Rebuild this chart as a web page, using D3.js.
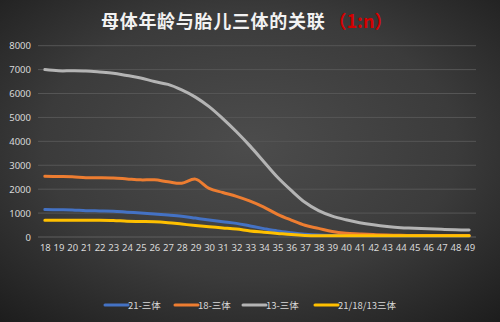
<!DOCTYPE html>
<html>
<head>
<meta charset="utf-8">
<script src="https://cdn.jsdelivr.net/npm/d3@7"></script>
<style>
html,body{margin:0;padding:0;background:#2a2a2a;}
svg{display:block;}
</style>
</head>
<body>
<svg id="chart" width="500" height="322"></svg>
<script>
const ages = d3.range(18, 50).map(String);
const seriesNames = ["21-三体", "18-三体", "13-三体", "21/18/13三体"];
const seriesColors = ["#4472c4", "#ed7d31", "#b4b4b4", "#ffc000"];
const t21 = [1150,1140,1130,1100,1090,1080,1040,1000,960,920,870,790,710,640,570,460,350,250,180,120,80,65,60,55,55,50,50,50,50,50,50,50];
const t18 = [2540,2530,2520,2480,2480,2470,2430,2390,2390,2310,2250,2420,2030,1860,1700,1500,1250,950,710,490,360,230,160,130,100,80,70,65,60,60,60,60];
const t13 = [7000,6950,6950,6940,6900,6850,6750,6650,6500,6380,6150,5850,5450,4950,4400,3800,3150,2500,1950,1450,1100,870,720,600,510,440,390,370,340,320,300,290];
const tAll = [700,700,700,700,700,690,660,650,640,600,540,480,430,380,330,250,200,150,100,65,50,50,50,50,50,50,50,50,50,50,50,50];
const seriesValues = [t21, t18, t13, tAll];
const yTicks = [0,1000,2000,3000,4000,5000,6000,7000,8000];
const titleMain = "母体年龄与胎儿三体的关联";
const titleRed = "（1:n）";

const svg = d3.select("#chart");
const W = 500, H = 322;

// background gradient
const defs = svg.append("defs");
const rg = defs.append("radialGradient").attr("id", "bg")
  .attr("cx", "50%").attr("cy", "45%").attr("r", "75%");
rg.append("stop").attr("offset", "0%").attr("stop-color", "#4c4c4c");
rg.append("stop").attr("offset", "55%").attr("stop-color", "#3b3b3b");
rg.append("stop").attr("offset", "100%").attr("stop-color", "#1c1c1c");
svg.append("rect").attr("width", W).attr("height", H).attr("fill", "url(#bg)");

const x = d3.scalePoint().domain(ages).range([38, 476]).padding(0.5);
const y = d3.scaleLinear().domain([0, 8000]).range([237, 45.7]);

// gridlines
svg.append("g").selectAll("line").data(yTicks).join("line")
  .attr("x1", 38).attr("x2", 476)
  .attr("y1", d => y(d)).attr("y2", d => y(d))
  .attr("stroke", d => d === 0 ? "#5e5e5e" : "#565656").attr("stroke-width", 1);

// y axis
const yAxis = svg.append("g").attr("transform", "translate(31,0)")
  .call(d3.axisLeft(y).tickValues(yTicks).tickSize(0).tickPadding(0).tickFormat(d3.format("d")));
yAxis.select(".domain").remove();
yAxis.selectAll("text").attr("fill", "#d9d9d9").style("font-family", "'Noto Sans', sans-serif").style("font-size", "9.5px");

// x axis
const xAxis = svg.append("g").attr("transform", "translate(0,244)")
  .call(d3.axisBottom(x).tickSize(0).tickPadding(0));
xAxis.select(".domain").remove();
xAxis.selectAll("text").attr("fill", "#d9d9d9").style("font-family", "'Noto Sans', sans-serif").style("font-size", "9.5px");

// lines
const line = d3.line().x((d, i) => x(ages[i])).y(d => y(d)).curve(d3.curveCatmullRom.alpha(0.5));
svg.append("g").selectAll("path").data(seriesValues).join("path")
  .attr("d", d => line(d))
  .attr("fill", "none")
  .attr("stroke", (d, i) => seriesColors[i])
  .attr("stroke-width", 3)
  .attr("stroke-linejoin", "round")
  .attr("stroke-linecap", "round");

// title
const title = svg.append("text").attr("x", 101).attr("y", 28)
  .style("font-family", "'Noto Sans CJK SC', sans-serif")
  .style("font-weight", "bold").style("font-size", "18px");
title.append("tspan").attr("fill", "#f2f2f2").style("letter-spacing", "0.7px").text(titleMain);
title.append("tspan").attr("fill", "#d40000").attr("dx", 3).text(titleRed);

// legend
const legendX = [105, 175, 243, 315];
const lg = svg.append("g").selectAll("g").data(seriesNames).join("g")
  .attr("transform", (d, i) => `translate(${legendX[i]},305)`);
lg.append("line").attr("x1", 0).attr("x2", 23).attr("y1", 0).attr("y2", 0)
  .attr("stroke", (d, i) => seriesColors[i]).attr("stroke-width", 3).attr("stroke-linecap", "round");
lg.append("text").attr("x", 23).attr("y", 3.5).attr("fill", "#d9d9d9")
  .style("font-family", "'Noto Sans CJK SC', sans-serif").style("font-size", "9.5px")
  .text(d => d);
</script>
</body>
</html>
